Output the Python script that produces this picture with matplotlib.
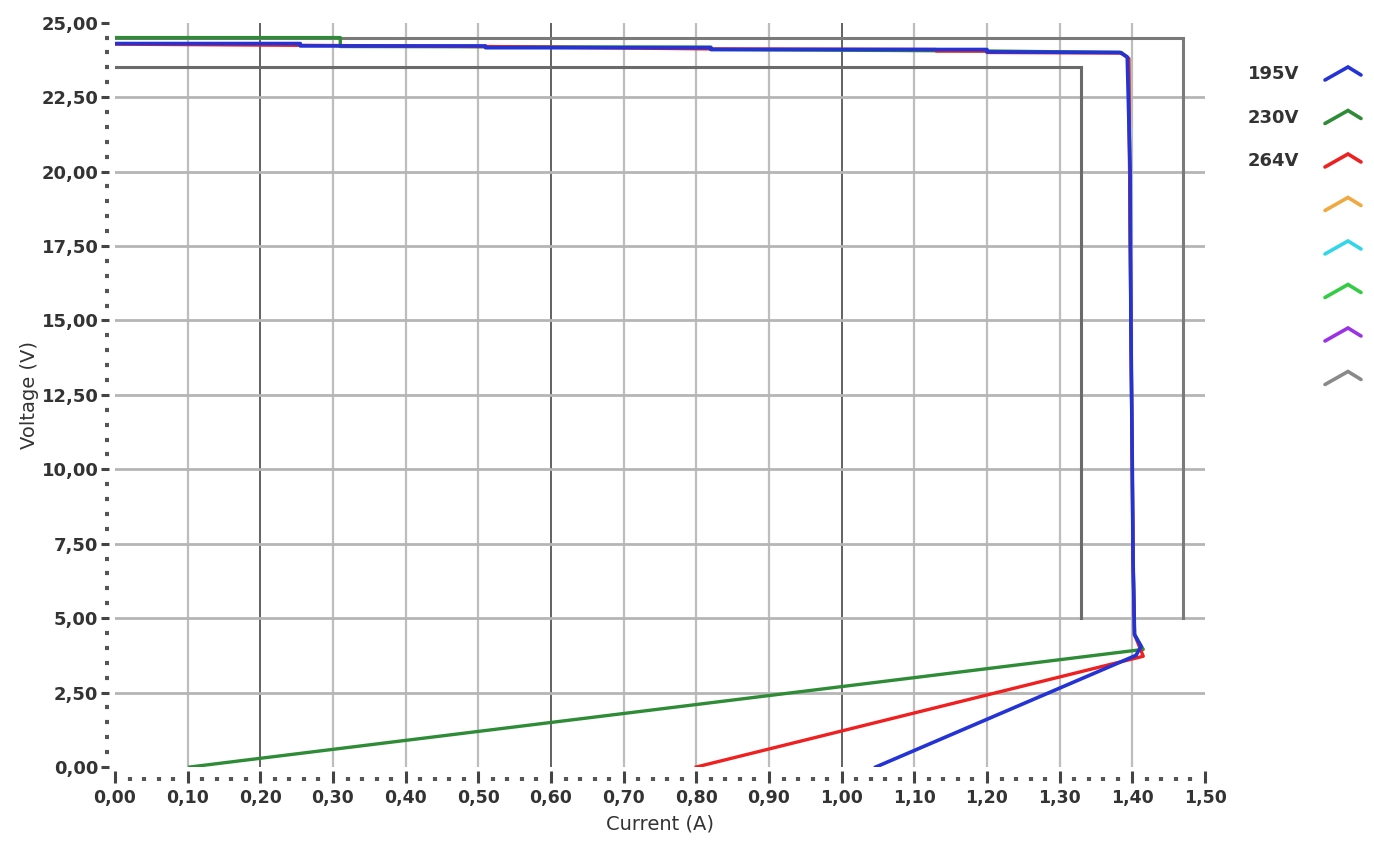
import matplotlib
matplotlib.use("Agg")
import matplotlib.pyplot as plt
from matplotlib.ticker import MultipleLocator, FuncFormatter
from matplotlib.lines import Line2D

# ---------------- data ----------------
# 195V (blue)
i_195 = [0.00, 0.255, 0.255, 0.51, 0.51, 0.82, 0.82, 1.20, 1.20, 1.383, 1.393, 1.397, 1.398, 1.400, 1.401, 1.403, 1.412, 1.405, 1.047]
v_195 = [24.30, 24.30, 24.22, 24.22, 24.16, 24.16, 24.10, 24.10, 24.02, 24.00, 23.85, 20.0, 15.0, 10.0, 7.0, 4.45, 4.05, 3.75, 0.00]
# 230V (green)
i_230 = [0.00, 0.31, 0.31, 0.82, 0.82, 1.20, 1.385, 1.395, 1.398, 1.401, 1.403, 1.415, 0.103]
v_230 = [24.50, 24.50, 24.20, 24.18, 24.10, 24.05, 24.00, 23.80, 15.0, 7.0, 4.45, 3.95, 0.00]
# 264V (red)
i_264 = [0.00, 0.51, 0.82, 1.13, 1.13, 1.20, 1.20, 1.385, 1.395, 1.398, 1.401, 1.403, 1.415, 0.80]
v_264 = [24.28, 24.20, 24.12, 24.10, 24.05, 24.05, 24.00, 23.98, 23.80, 15.0, 7.0, 4.45, 3.72, 0.00]

# limit boxes (grey)
lim_hi_i = [0.00, 1.47, 1.47]
lim_hi_v = [24.5, 24.5, 5.0]
lim_lo_i = [0.00, 1.33, 1.33]
lim_lo_v = [23.5, 23.5, 5.0]

legend_labels = ["195V", "230V", "264V", "", "", "", "", ""]
legend_colors = ["#2433d6", "#2e8b36", "#ee2020", "#f0a840", "#33d6e8", "#33cc44", "#9a33e6", "#8a8a8a"]

x_ticks = [round(0.1 * k, 2) for k in range(16)]
y_ticks = [2.5 * k for k in range(11)]
dark_grid_x = [0.2, 0.6, 1.0]

# ---------------- figure ----------------
W, H = 1374, 841
fig = plt.figure(figsize=(W / 100, H / 100), dpi=100)
ax = fig.add_axes([115 / W, 1 - 767 / H, (1205 - 115) / W, (767 - 22.7) / H])
ax.set_xlim(0, 1.5)
ax.set_ylim(0, 25)

# grid
for xv in x_ticks[1:-1]:
    dark = any(abs(xv - d) < 1e-6 for d in dark_grid_x)
    ax.axvline(xv, color="#555555" if dark else "#bdbdbd", lw=1.3 if dark else 1.6, zorder=1)
for yv in y_ticks[1:-1]:
    ax.axhline(yv, color="#b5b5b5", lw=2.0, zorder=1)

# limit lines
ax.plot(lim_hi_i, lim_hi_v, color="#7a7a7a", lw=2.2, zorder=2, solid_joinstyle="miter")
ax.plot(lim_lo_i, lim_lo_v, color="#6a6a6a", lw=2.2, zorder=2, solid_joinstyle="miter")

# curves
ax.plot(i_230, v_230, color=legend_colors[1], lw=2.4, zorder=3)
ax.plot(i_264, v_264, color=legend_colors[2], lw=2.4, zorder=4)
ax.plot(i_195, v_195, color=legend_colors[0], lw=2.6, zorder=5)

# axes styling: no axis lines, dotted minor ticks set slightly outward
for s in ax.spines.values():
    s.set_visible(False)
ax.spines["bottom"].set_position(("outward", 7))
ax.spines["left"].set_position(("outward", 4))

fmt = FuncFormatter(lambda v, p: f"{v:.2f}".replace(".", ","))
ax.set_xticks(x_ticks)
ax.set_yticks(y_ticks)
ax.xaxis.set_minor_locator(MultipleLocator(0.02))
ax.yaxis.set_minor_locator(MultipleLocator(0.5))
ax.xaxis.set_major_formatter(fmt)
ax.yaxis.set_major_formatter(fmt)
ax.tick_params(axis="both", which="major", length=6, width=2.2, color="#444444",
               labelcolor="#333333", pad=2)
ax.tick_params(axis="x", which="major", direction="inout", length=9, labelsize=12.5, pad=4)
ax.tick_params(axis="y", which="major", labelsize=13)
ax.tick_params(axis="both", which="minor", length=3, width=3, color="#555555")
for lab in ax.get_xticklabels() + ax.get_yticklabels():
    lab.set_fontweight("bold")

ax.set_xlabel("Current (A)", fontsize=14, color="#333333", labelpad=6)
ax.set_ylabel("Voltage (V)", fontsize=14, color="#333333", labelpad=2)

# legend (manual, in figure pixels)
lax = fig.add_axes([0, 0, 1, 1], facecolor="none")
lax.set_xlim(0, W)
lax.set_ylim(H, 0)
lax.axis("off")
y0, dy = 74, 43.5
for k, (lab, col) in enumerate(zip(legend_labels, legend_colors)):
    yc = y0 + k * dy
    lax.add_line(Line2D([1325, 1348, 1361], [yc + 6, yc - 7, yc + 1], color=col, lw=2.6,
                        solid_capstyle="round", solid_joinstyle="miter"))
    if lab:
        lax.text(1299, yc, lab, ha="right", va="center", fontsize=13, color="#333333",
                 fontweight="bold")

fig.savefig("out.png", dpi=100)
